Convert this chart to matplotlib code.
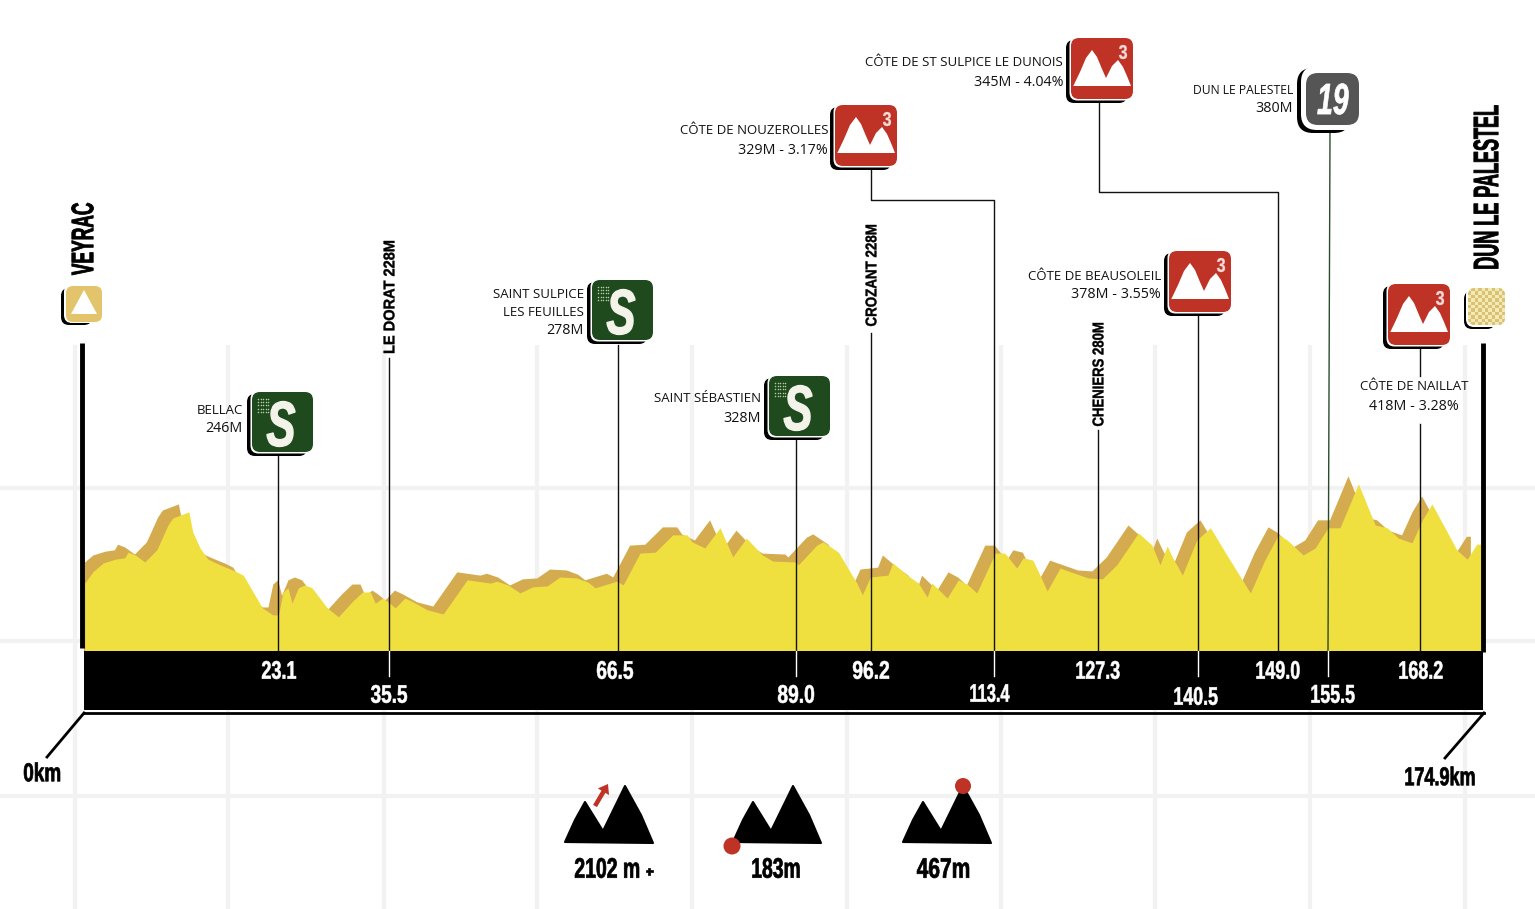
import matplotlib
matplotlib.use("Agg")
import matplotlib.pyplot as plt
from matplotlib.patches import FancyBboxPatch, Polygon, Circle, FancyArrow
from matplotlib.text import Text
from matplotlib.textpath import TextPath
from matplotlib.font_manager import FontProperties
from matplotlib.transforms import Affine2D
from matplotlib.colors import ListedColormap, to_rgb
import numpy as np

# ---------- data ----------
profile_km = [0.1,1.1,2.4,3.9,5.1,5.5,6.4,7.6,9.1,10.5,11.1,13.1,13.6,14.5,15.5,17.0,19.1,19.9,21.0,22.3,23.6,24.3,24.9,25.5,26.0,26.8,27.6,28.5,30.4,31.8,33.5,34.8,35.8,36.4,37.3,38.0,38.9,40.1,41.1,42.9,44.9,47.9,50.8,51.6,53.0,54.5,56.1,57.9,59.5,61.6,63.0,63.9,66.6,67.4,69.5,71.4,73.6,75.4,76.0,77.6,79.5,81.1,82.8,84.8,86.1,88.9,89.3,91.6,92.4,94.3,96.6,97.3,98.3,100.5,101.1,102.9,104.3,105.4,106.0,107.9,109.3,110.5,111.6,113.9,115.1,116.6,117.4,118.6,119.5,120.4,122.0,125.5,127.3,129.1,131.8,133.5,134.5,135.4,136.1,137.3,139.1,140.8,143.0,145.8,147.6,149.3,150.4,152.4,153.9,155.5,157.0,159.3,161.4,162.9,164.3,166.0,167.3,168.5,171.6,172.9,174.1,174.6]
profile_ele = [255,279,298,306,309,321,315,300,326,379,394,407,364,330,306,294,279,272,240,202,187,187,236,245,212,245,251,245,202,183,215,236,236,212,223,215,202,223,215,198,189,262,255,259,251,234,247,249,268,266,257,245,259,251,319,321,358,358,343,330,373,311,351,315,302,300,294,336,343,321,255,230,268,272,298,272,255,225,255,223,262,251,234,319,319,287,309,304,272,238,287,266,264,294,362,336,294,334,309,272,347,373,311,234,304,358,347,315,330,373,373,467,379,373,351,341,390,424,326,306,338,338]

km_labels = ["23.1","35.5","66.5","89.0","96.2","113.4","127.3","140.5","149.0","155.5","168.2"]
stat_labels = ["2102 m","183m","467m"]
towns = ["VEYRAC","DUN LE PALESTEL"]
passages = ["LE DORAT 228M","CROZANT 228M","CHENIERS 280M"]
climbs = [("CÔTE DE NOUZEROLLES","329M - 3.17%"),("CÔTE DE ST SULPICE LE DUNOIS","345M - 4.04%"),
          ("CÔTE DE BEAUSOLEIL","378M - 3.55%")]
sprints = [("BELLAC","246M"),("SAINT SULPICE","LES FEUILLES","278M"),("SAINT SÉBASTIEN","328M")]

# ---------- style ----------
W, H = 1535, 909
BODY = "Open Sans"
YEL, TAN, RED, GRN, GRY, GRID = "#efe03f", "#d5ab4f", "#bf3226", "#1f4a1e", "#555555", "#f2f2f2"

fig = plt.figure(figsize=(W/100, H/100), dpi=100, facecolor="white")
ax = fig.add_axes([0, 0, 1, 1], zorder=1)
ax.set_xlim(0, W); ax.set_ylim(H, 0); ax.axis("off")

# background grid
for x in [75, 228, 384, 537, 692, 847, 1001, 1155, 1310, 1465]:
    ax.plot([x, x], [345, H], color=GRID, lw=3, zorder=0, solid_capstyle="butt")
for y in [488, 641, 796]:
    ax.plot([0, W], [y, y], color=GRID, lw=3, zorder=0, solid_capstyle="butt")

# profile (own axes in km / metres)
pa = fig.add_axes([84/W, (H-651)/H, 1399/W, 300/H], zorder=2)
pa.set_xlim(0, 174.88); pa.set_ylim(110, 750.5); pa.axis("off"); pa.patch.set_alpha(0)
km = np.array(profile_km); ele = np.array(profile_ele)
pa.fill_between(km-1.3, ele+17, 110, color=TAN, lw=0)
pa.fill_between(km, ele, 110, color=YEL, lw=0)

ov = fig.add_axes([0, 0, 1, 1], zorder=3)
ov.set_xlim(0, W); ov.set_ylim(H, 0); ov.axis("off"); ov.patch.set_alpha(0)


class FitText(Text):
    """Real text set in a condensed cut: the glyphs are fitted to a given length and height (px)."""
    def __init__(self, x, y, s, height, length, italic=False, stroke=0.5, **kw):
        super().__init__(x, y, s, ha="center", va="center", **kw)
        self._hpx, self._lpx, self._stroke = height, length, stroke
        fp = FontProperties(family="Liberation Sans", weight="bold", style="italic" if italic else "normal")
        self._tp = TextPath((0, 0), s, size=100, prop=fp)

    def _fit(self):
        b = self._tp.get_extents()
        cx, cy = self.get_transform().transform(self.get_position())
        return (Affine2D().translate(-b.x0-b.width/2, -b.y0-b.height/2)
                .scale(self._lpx/b.width, self._hpx/b.height)
                .rotate_deg(self.get_rotation()).translate(cx, cy))

    def draw(self, renderer):
        if not self.get_visible():
            return
        gc = renderer.new_gc()
        gc.set_foreground(self.get_color())
        gc.set_linewidth(self._stroke)
        renderer.draw_path(gc, self._tp, self._fit(), to_rgb(self.get_color()))
        gc.restore()
        self.stale = False

    def get_window_extent(self, renderer=None, dpi=None):
        return self._tp.transformed(self._fit()).get_extents()


def ctext(x, y, s, h, l, color="black", rot=0, italic=False, stroke=0.5):
    t = FitText(x, y, s, h, l, italic=italic, stroke=stroke, color=color, rotation=rot, zorder=8,
                transform=ov.transData)
    ov.add_artist(t)
    return t


# bar and frame
ov.add_patch(plt.Rectangle((84, 651), 1399, 59, color="black", lw=0))
ov.plot([84, 1484], [713, 713], color="black", lw=2)
ov.plot([84, 47], [713, 757], color="black", lw=2)
ov.plot([1484, 1445], [713, 758], color="black", lw=2)
ov.plot([82, 82], [343, 648], color="black", lw=3.5, solid_capstyle="butt")
ov.plot([1483, 1483], [343, 652], color="black", lw=3.5, solid_capstyle="butt")

# leader lines
LW = 1.0
leaders = [([278, 278], [455, 651]), ([389, 389], [358, 651]), ([618, 618], [345, 651]),
           ([796, 796], [440, 651]), ([871, 871], [333, 651]), ([871, 871, 994, 994], [168, 200, 200, 651]),
           ([1098, 1098], [430, 651]), ([1198, 1198], [315, 651]),
           ([1099, 1099, 1278, 1278], [100, 192, 192, 651]),
           ([1420, 1420], [345, 376]), ([1420, 1420], [424, 651])]
for xs, ys in leaders:
    ov.plot(xs, ys, color="#111111", lw=LW)
ov.plot([1330, 1328], [133, 651], color="#2c4a2c", lw=LW)
for x in [389, 796, 994, 1198, 1328]:
    ov.plot([x, x], [651, 676], color="white", lw=LW)


def rbox(x0, y0, x1, y1, r, color, z=5):
    p = FancyBboxPatch((x0, y0), x1-x0, y1-y0, boxstyle=f"round,pad=0,rounding_size={r}",
                       fc=color, ec="none", lw=0, zorder=z)
    ov.add_patch(p)
    return p


def shell(x0, y0, x1, y1, r, color, sh=5, gap=1.5):
    rbox(x0-sh, y0+2, x1-6, y1+sh-1, r, "black", 4)
    rbox(x0-gap, y0-1, x1+1, y1+gap, r, "white", 4.5)
    return rbox(x0, y0, x1, y1, r, color, 5)


def climb(x0, y0, cat="3"):
    shell(x0, y0, x0+62, y0+61, 8, RED)
    pts = [(2.3, 48), (9, 34), (15, 20), (21, 12), (26, 19), (31, 31), (35, 40), (41, 28), (47, 22),
           (52, 29), (56, 38), (60, 48)]
    ov.add_patch(Polygon([(x0+a, y0+b) for a, b in pts], closed=True, fc="white", ec="none", zorder=6))
    ctext(x0+52, y0+14, cat, 14, 8, color="#f6dcd8", stroke=0.2)


def sprint(x0, y0):
    shell(x0, y0, x0+61, y0+60, 8, GRN)
    ctext(x0+29, y0+32, "S", 45, 28, color="#f3f3ea", italic=True, stroke=1.0)
    gx, gy = np.meshgrid(np.arange(5), np.arange(5))
    ov.scatter(x0+6+gx.ravel()*2.6, y0+7+gy.ravel()*3.2, s=1.2, color="#b7c9a6", lw=0, zorder=7)


for pos in [(835, 105), (1071, 38), (1169, 251), (1388, 284)]:
    climb(*pos)
for pos in [(252, 392), (592, 280), (769, 376)]:
    sprint(*pos)

# stage-number badge
rbox(1297, 68, 1350, 133, 16, "black", 4)
rbox(1301, 66, 1364, 130, 16, "white", 4.5)
rbox(1306, 73, 1359, 125, 12, GRY, 5)
ctext(1333, 99, "19", 31, 31, color="white", italic=True, stroke=0.5)

# start and finish
rbox(61, 288, 92, 325, 8, "black", 4)
rbox(64, 284, 103, 323, 8, "white", 4.5)
rbox(66, 286, 102, 322, 7, "#e3c46c", 5)
ov.add_patch(Polygon([(71, 314), (84, 290), (97, 314)], closed=True, fc="white", ec="none", zorder=6))
rbox(1464, 291, 1495, 329, 8, "black", 4)
rbox(1466, 287, 1507, 327, 8, "white", 4.5)
fin = rbox(1468, 288, 1505, 325, 7, "#f0e4a6", 5)
cx = np.arange(1468, 1506, 3.4); cy = np.arange(288, 326, 3.4)
chk = np.indices((len(cy)-1, len(cx)-1)).sum(axis=0) % 2
mesh = ov.pcolormesh(cx, cy, chk, cmap=ListedColormap(["#f3e9b4", "#d9c274"]), zorder=6)
mesh.set_clip_path(fin)
ov.set_xlim(0, W); ov.set_ylim(H, 0)


# body labels
def body(x, y, s, ha="right", fs=9.5):
    ov.text(x, y+1, s, fontsize=fs, family=BODY, color="#111111", ha=ha, va="center", zorder=8)


N = 10.3
body(243, 410, sprints[0][0]); body(243, 428, sprints[0][1], fs=N)
body(584, 293, sprints[1][0]); body(584, 311, sprints[1][1]); body(584, 329, sprints[1][2], fs=N)
body(761, 398, sprints[2][0]); body(761, 417, sprints[2][1], fs=N)
body(828, 130, climbs[0][0]); body(828, 149, climbs[0][1], fs=N)
body(1063, 62, climbs[1][0]); body(1063, 81, climbs[1][1], fs=N)
body(1161, 275, climbs[2][0]); body(1161, 294, climbs[2][1], fs=N)
body(1293, 89, "DUN LE PALESTEL", fs=8.7); body(1293, 108, "380M", fs=N)
body(1414, 386, "CÔTE DE NAILLAT", "center"); body(1414, 405, "418M - 3.28%", "center", fs=N)

# vertical text
ctext(82.5, 239, towns[0], 22, 72, rot=90, stroke=0.6)
ctext(1486, 187, towns[1], 25, 163, rot=90, stroke=0.6)
for (x, y, l), s in zip([(389, 297, 112), (871, 275.5, 101), (1098, 374.5, 103)], passages):
    ctext(x, y, s, 11, l, rot=90, stroke=0.3)

# km labels in the bar
lab_pos = [(279, 670, 34), (389, 694, 36), (615, 670, 36), (796, 694, 36), (871, 670, 36), (990, 693, 39),
           (1098, 670, 43), (1196, 696, 43), (1278, 670, 43), (1333, 694, 43), (1421, 670, 43)]
for (x, y, l), s in zip(lab_pos, km_labels):
    ctext(x, y, s, 18, l, color="white", stroke=0.4)
ctext(42, 772, "0km", 19, 36)
ctext(1440, 776, "174.9km", 19, 69)

# bottom statistics
mount = [(565, 842), (575, 820), (585, 802), (603, 831), (625, 786), (641, 815), (653, 843)]
for dx in [0, 168, 338]:
    ov.add_patch(Polygon([(a+dx, b) for a, b in mount], closed=True, fc="black", ec="black", lw=1.5,
                         joinstyle="round", zorder=6))
ov.add_patch(FancyArrow(595, 806, 13, -22, width=4.5, head_width=13, head_length=9,
                        length_includes_head=True, fc=RED, ec="none", zorder=7))
ov.add_patch(Circle((732, 846), 8.5, fc=RED, ec="none", zorder=7))
ov.add_patch(Circle((963, 786), 8, fc=RED, ec="none", zorder=7))
for (x, y, l), s in zip([(607, 868, 64), (776, 868, 47), (943, 868, 52)], stat_labels):
    ctext(x, y, s, 20, l)
ctext(649, 871, "+", 7, 7)

fig.savefig("out.png", dpi=100, facecolor="white")
